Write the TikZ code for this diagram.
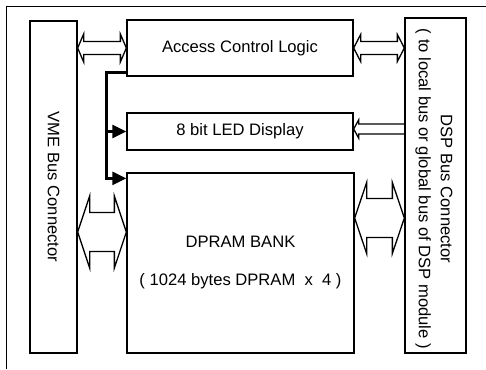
\documentclass[tikz,border=0pt]{standalone}
\usepackage{fontspec}
\setmainfont{Liberation Sans}
\usetikzlibrary{arrows.meta}
\usetikzlibrary{calc}
\tikzset{   block/.style = {rectangle, draw = black, line width = 1.3pt, fill = white, inner sep = 0pt},
            upright/.style = {rotate = -90, align = center, inner sep = 0pt},
            bus/.style = {draw = black, line width = 1.3pt, fill = white, line join = miter},
            hollow/.style = {draw = black, line width = 1.3pt, line join = miter},
            ctrl/.style = {draw = black, line width = 2.4pt, line join = miter, -{Triangle[length=14pt, width=13pt]}}}

\newcommand{\busarrow}[5]{%
  \draw[bus] let \p1 = (#1), \p2 = (#2) in
    (\x1,\y1) -- (\x1+#3,\y1+#4) -- (\x1+#3,\y1+#5) -- (\x2-#3,\y1+#5) -- (\x2-#3,\y1+#4) -- (\x2,\y1)
    -- (\x2-#3,\y1-#4) -- (\x2-#3,\y1-#5) -- (\x1+#3,\y1-#5) -- (\x1+#3,\y1-#4) -- cycle;}

\begin{document}
\begin{tikzpicture}[x=1pt, y=-1pt, font=\fontsize{16.6}{20}\selectfont]
  \useasboundingbox (0,0) rectangle (486,369);
  \draw[line width=1pt] (6,369) -- (6,7) -- (486,7);

  \node[block, minimum width=47pt, minimum height=332pt] (vme) at (53.5,187) {};
  \node[upright] (vmetext) at (vme.center) {VME Bus Connector};
  \node[block, minimum width=61pt, minimum height=335pt] (dsp) at (435.5,185.5) {};
  \node[upright, font=\fontsize{16.6}{22}\selectfont] (dsptext) at (434,189)
    {DSP Bus Connector\\( to local bus or global bus of DSP module )};

  \node[block, minimum width=226pt, minimum height=56pt] (acl) at (240,48) {Access Control Logic};
  \node[block, minimum width=226pt, minimum height=37pt] (led) at (240,131.5) {8 bit LED Display};
  \node[block, minimum width=227pt, minimum height=180pt, align=center] (dpram) at (240.5,263)
    {DPRAM BANK\\[18pt]( 1024 bytes DPRAM\ \ x\ \ 4 )};

  \busarrow{vme.east |- acl.west}{acl.west}{6pt}{14pt}{6.5pt}
  \busarrow{acl.east}{dsp.west |- acl.east}{7pt}{13.5pt}{6.5pt}

  \coordinate (ml) at ([yshift=31pt]dpram.west);
  \coordinate (mr) at ([yshift=45pt]dpram.east);
  \busarrow{vme.east |- ml}{ml}{12pt}{36pt}{19.5pt}
  \busarrow{mr}{dsp.west |- mr}{12pt}{35.5pt}{19.5pt}

  \coordinate (lt) at ([yshift=2.5pt]led.east);
  \draw[hollow] let \p1 = (lt), \p2 = (dsp.west |- lt) in
    (\x2,\y1+5pt) -- (\x1+5pt,\y1+5pt) -- (\x1+5pt,\y1+9pt) -- (\x1,\y1)
    -- (\x1+5pt,\y1-9pt) -- (\x1+5pt,\y1-5pt) -- (\x2,\y1-5pt);

  \coordinate (tap) at ([xshift=-20pt]led.west);
  \draw[ctrl] ([yshift=4pt]acl.south west) -| (tap) |- ([yshift=-6pt]dpram.north west);
  \draw[ctrl] (tap) -- (led.west);
\end{tikzpicture}
\end{document}
